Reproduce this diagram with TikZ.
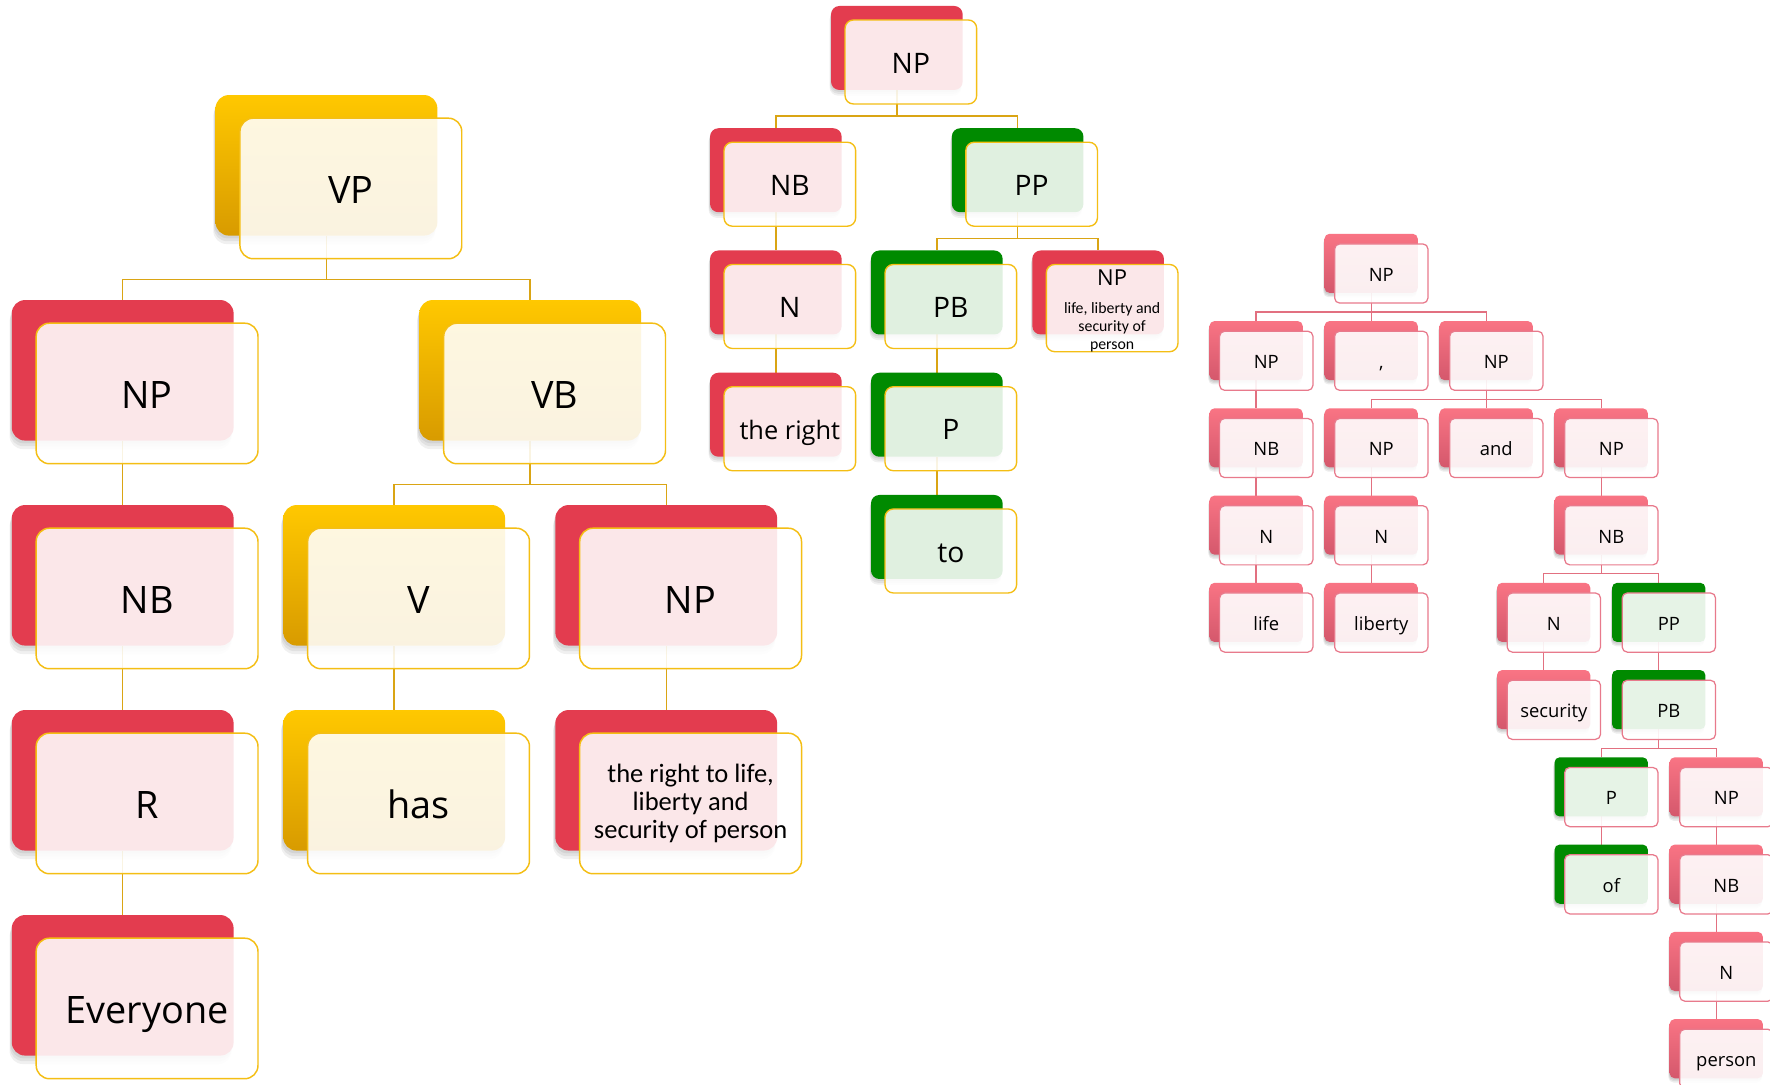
\documentclass[tikz,border=0pt]{standalone}
\usepackage{fontspec}
\setmainfont{Open Sans}
\newfontfamily\corbelfont{Carlito}
\usetikzlibrary{shadows}
\pgfdeclarelayer{bg}
\pgfsetlayers{bg,main}

\definecolor{redc}{RGB}{227,60,79}
\definecolor{goldtop}{RGB}{255,200,0}
\definecolor{goldbot}{RGB}{216,155,0}
\definecolor{greenc}{RGB}{0,138,0}
\definecolor{pinktop}{RGB}{249,116,132}
\definecolor{pinkbot}{RGB}{212,88,108}
\definecolor{goldedge}{RGB}{244,190,20}
\definecolor{goldlink}{RGB}{218,165,20}
\definecolor{pinkedge}{RGB}{232,122,140}
\definecolor{pinklink}{RGB}{226,112,128}

\tikzset{
  shL/.style={
    general shadow={shadow xshift=-1pt, shadow yshift=-2.5pt, fill=black, opacity=0.06},
    general shadow={shadow xshift=-1.5pt, shadow yshift=-5pt, fill=black, opacity=0.06},
    general shadow={shadow xshift=-2pt, shadow yshift=-7.5pt, fill=black, opacity=0.06}},
  shM/.style={
    general shadow={shadow xshift=-0.7pt, shadow yshift=-1.7pt, fill=black, opacity=0.06},
    general shadow={shadow xshift=-1pt, shadow yshift=-3.4pt, fill=black, opacity=0.06},
    general shadow={shadow xshift=-1.3pt, shadow yshift=-5pt, fill=black, opacity=0.06}},
  shR/.style={
    general shadow={shadow xshift=-0.5pt, shadow yshift=-1.3pt, fill=black, opacity=0.07},
    general shadow={shadow xshift=-0.7pt, shadow yshift=-2.6pt, fill=black, opacity=0.07},
    general shadow={shadow xshift=-1pt, shadow yshift=-3.8pt, fill=black, opacity=0.07}},
  backbase/.style={rectangle, inner sep=0pt, outer sep=0pt, anchor=north west},
  backL/.style={backbase, minimum width=196.5pt, minimum height=124.5pt, rounded corners=11.8pt, shL},
  backM/.style={backbase, minimum width=116.6pt, minimum height=74.4pt, rounded corners=7.4pt, shM},
  backR/.style={backbase, minimum width=82.7pt, minimum height=52.4pt, rounded corners=4.5pt, shR},
  redb/.style={fill=redc},
  goldb/.style={top color=goldtop, bottom color=goldbot},
  greenb/.style={fill=greenc},
  pinkb/.style={top color=pinktop, bottom color=pinkbot},
  frontbase/.style={rectangle, inner sep=0pt, outer sep=0pt, anchor=north west,
    fill=white, fill opacity=0.88, text opacity=1, text=black},
  frontL/.style={frontbase, minimum width=196.5pt, minimum height=124.5pt, rounded corners=11.8pt,
    draw=goldedge, line width=1.3pt, xshift=21.6pt, yshift=-20.5pt, font=\fontsize{33.5}{40}\selectfont},
  frontM/.style={frontbase, minimum width=116.6pt, minimum height=74.4pt, rounded corners=7.4pt,
    draw=goldedge, line width=1.2pt, xshift=12.4pt, yshift=-12.4pt, font=\fontsize{25}{30}\selectfont},
  frontR/.style={frontbase, minimum width=82.7pt, minimum height=52.4pt, rounded corners=4.5pt,
    draw=pinkedge, line width=1.1pt, xshift=9pt, yshift=-9pt, font=\fontsize{16.3}{20}\selectfont, fill opacity=0.9},
  lL/.style={text height=27.4pt, text depth=0pt},
  lM/.style={text height=19.8pt, text depth=0pt},
  lR/.style={text height=13.7pt, text depth=0pt},
  linkL/.style={draw=goldlink, line width=1.3pt},
  linkM/.style={draw=goldlink, line width=1.2pt},
  linkR/.style={draw=pinklink, line width=1.1pt},
}

\newcommand\treebox[6]{%
  \node[#2] (#1-b) at (#4,#5) {};
  \node[#3] (#1) at (#4,#5) {#6};}

\begin{document}
\begin{tikzpicture}[x=1pt,y=-1pt]
\useasboundingbox (0,0) rectangle (1568,961);
\clip (0,0) rectangle (1568,961);

% ---------------- left tree ----------------
\treebox{L0}{backL,goldb}{frontL,lL}{190.95}{84.2}{VP}
\treebox{L1}{backL,redb}{frontL,lL}{10.45}{265.8}{NP}
\treebox{L2}{backL,goldb}{frontL,lL}{371.45}{265.8}{VB}
\treebox{L3}{backL,redb}{frontL,lL}{10.45}{447.4}{NB}
\treebox{L4}{backL,goldb}{frontL,lL}{250.95}{447.4}{V}
\treebox{L6}{backL,redb}{frontL,lL}{491.95}{447.4}{NP}
\treebox{L5}{backL,redb}{frontL,lL}{10.45}{629}{R}
\treebox{L7}{backL,goldb}{frontL,lL}{250.95}{629}{has}
\treebox{L9}{backL,redb}{frontL,align=center,font=\corbelfont\fontsize{23.5}{24.8}\selectfont}{491.95}{629}{the right to life,\\liberty and\\security of person}
\treebox{L8}{backL,redb}{frontL,lL}{10.45}{810.6}{Everyone}

% ---------------- middle tree ----------------
\treebox{M0}{backM,redb}{frontM,lM}{736.2}{5.3}{NP}
\treebox{M1}{backM,redb}{frontM,lM}{629}{113.6}{NB}
\treebox{M2}{backM,greenb}{frontM,lM}{843.2}{113.6}{PP}
\treebox{M3}{backM,redb}{frontM,lM}{629}{221.9}{N}
\treebox{M4}{backM,greenb}{frontM,lM}{771.6}{221.9}{PB}
\treebox{M5}{backM,redb}{frontM,align=center,font=\corbelfont\fontsize{14}{15.8}\selectfont}{914.5}{221.9}{\rule{0pt}{19pt}{\rmfamily\fontsize{19.5}{20}\selectfont NP}\\[8.6pt]life, liberty and\\security of\\person}
\treebox{M6}{backM,redb}{frontM,lM,font=\fontsize{22.5}{27}\selectfont}{629}{330.2}{the right}
\treebox{M7}{backM,greenb}{frontM,lM}{771.6}{330.2}{P}
\treebox{M8}{backM,greenb}{frontM,lM}{771.6}{438.5}{to}

% ---------------- right tree ----------------
\treebox{R0}{backR,pinkb}{frontR,lR}{1173.3}{207.1}{NP}
\treebox{R1}{backR,pinkb}{frontR,lR}{1071.4}{284.4}{NP}
\treebox{R2}{backR,pinkb}{frontR,lR}{1173.3}{284.4}{,}
\treebox{R3}{backR,pinkb}{frontR,lR}{1275.2}{284.4}{NP}
\treebox{R4}{backR,pinkb}{frontR,lR}{1071.4}{361.7}{NB}
\treebox{R5}{backR,pinkb}{frontR,lR}{1173.3}{361.7}{NP}
\treebox{R6}{backR,pinkb}{frontR,lR}{1275.2}{361.7}{and}
\treebox{R7}{backR,pinkb}{frontR,lR}{1377.1}{361.7}{NP}
\treebox{R8}{backR,pinkb}{frontR,lR}{1071.4}{439.0}{N}
\treebox{R9}{backR,pinkb}{frontR,lR}{1173.3}{439.0}{N}
\treebox{R10}{backR,pinkb}{frontR,lR}{1377.1}{439.0}{NB}
\treebox{R11}{backR,pinkb}{frontR,lR}{1071.4}{516.3}{life}
\treebox{R12}{backR,pinkb}{frontR,lR}{1173.3}{516.3}{liberty}
\treebox{R13}{backR,pinkb}{frontR,lR}{1326.15}{516.3}{N}
\treebox{R14}{backR,greenb}{frontR,lR}{1428.05}{516.3}{PP}
\treebox{R15}{backR,pinkb}{frontR,lR}{1326.15}{593.6}{security}
\treebox{R16}{backR,greenb}{frontR,lR}{1428.05}{593.6}{PB}
\treebox{R17}{backR,greenb}{frontR,lR}{1377.1}{670.9}{P}
\treebox{R18}{backR,pinkb}{frontR,lR}{1479.0}{670.9}{NP}
\treebox{R19}{backR,greenb}{frontR,lR}{1377.1}{748.2}{of}
\treebox{R20}{backR,pinkb}{frontR,lR}{1479.0}{748.2}{NB}
\treebox{R21}{backR,pinkb}{frontR,lR}{1479.0}{825.5}{N}
\treebox{R22}{backR,pinkb}{frontR,lR}{1479.0}{902.8}{person}

% ---------------- connectors (behind) ----------------
\begin{pgfonlayer}{bg}
\fill[white] (0,0) rectangle (1568,961);
\foreach \p/\c in {L0/L1,L0/L2,L1/L3,L3/L5,L5/L8,L2/L4,L2/L6,L4/L7,L6/L9}
  \draw[linkL] (\p-b.south) -- ++(0,38.8) -| (\c-b.north);
\foreach \p/\c in {M0/M1,M0/M2,M1/M3,M3/M6,M2/M4,M2/M5,M4/M7,M7/M8}
  \draw[linkM] (\p-b.south) -- ++(0,23.15) -| (\c-b.north);
\foreach \p/\c in {R0/R1,R0/R2,R0/R3,R1/R4,R4/R8,R8/R11,R3/R5,R3/R6,R3/R7,R5/R9,R9/R12,
                   R7/R10,R10/R13,R10/R14,R13/R15,R14/R16,R16/R17,R16/R18,R17/R19,R18/R20,R20/R21,R21/R22}
  \draw[linkR] (\p-b.south) -- ++(0,16.95) -| (\c-b.north);
\end{pgfonlayer}
\end{tikzpicture}
\end{document}
